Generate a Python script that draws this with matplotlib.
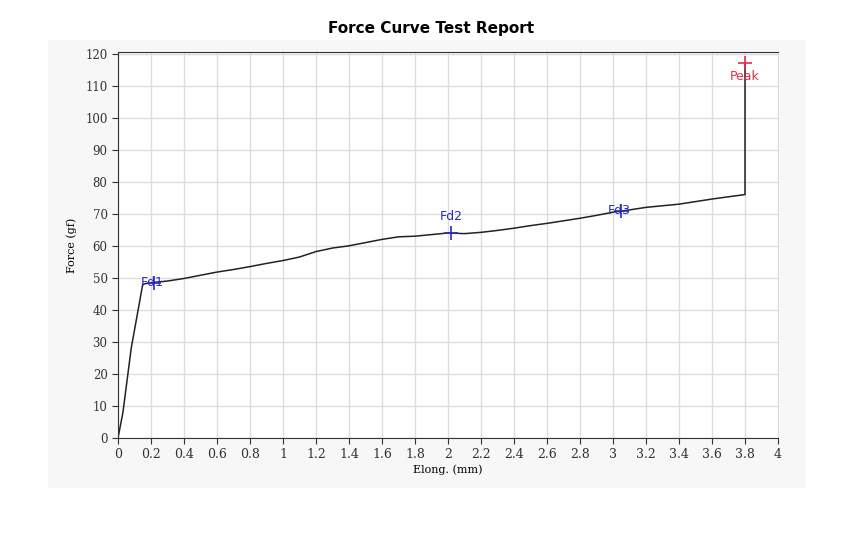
import matplotlib
matplotlib.use("Agg")
import matplotlib.pyplot as plt

elong = [0, 0.03, 0.08, 0.15, 0.2, 0.3, 0.4, 0.5, 0.6, 0.7, 0.8, 0.9, 1.0, 1.1, 1.2, 1.3, 1.4, 1.5, 1.6, 1.7, 1.8, 1.9, 2.0, 2.1, 2.2, 2.3, 2.4, 2.5, 2.6, 2.7, 2.8, 2.9, 3.0, 3.1, 3.2, 3.3, 3.4, 3.5, 3.6, 3.7, 3.8, 3.8]
force = [0, 8, 28, 48, 48.5, 49, 49.8, 50.8, 51.8, 52.6, 53.5, 54.5, 55.4, 56.5, 58.2, 59.3, 60, 61, 62, 62.8, 63, 63.5, 64, 63.8, 64.2, 64.8, 65.5, 66.3, 67, 67.8, 68.6, 69.5, 70.5, 71.2, 72, 72.5, 73, 73.8, 74.6, 75.3, 76, 117]
pt_names = ["Fd1", "Fd2", "Fd3", "Peak"]
pt_x = [0.22, 2.02, 3.05, 3.8]
pt_y = [48.5, 64, 71, 117]
pt_colors = ["#2b2bbf", "#2b2bbf", "#2b2bbf", "#e0304a"]
xticks = [0, 0.2, 0.4, 0.6, 0.8, 1, 1.2, 1.4, 1.6, 1.8, 2, 2.2, 2.4, 2.6, 2.8, 3, 3.2, 3.4, 3.6, 3.8, 4]
xtick_labels = ["0", "0.2", "0.4", "0.6", "0.8", "1", "1.2", "1.4", "1.6", "1.8", "2", "2.2", "2.4", "2.6", "2.8", "3", "3.2", "3.4", "3.6", "3.8", "4"]
yticks = list(range(0, 121, 10))

fig = plt.figure(figsize=(8.62, 5.33), dpi=100)
bg = fig.add_axes([48/862, 1-488/533, (805-48)/862, (488-40)/533])
bg.set_facecolor("#f7f7f7")
bg.set_xticks([]); bg.set_yticks([])
for s in bg.spines.values():
    s.set_visible(False)
bg.set_zorder(0)
ax = fig.add_axes([118/862, 1-438/533, 660/862, 386/533])
ax.set_zorder(1)
ax.set_facecolor("white")
ax.plot(elong, force, color="#222222", lw=1.1)
for n, x, y, c in zip(pt_names, pt_x, pt_y, pt_colors):
    ax.plot(x, y, marker="+", color=c, ms=10, mew=1.2)
    if n == "Fd2":
        ax.text(x, y + 5, n, color=c, ha="center", va="center", fontsize=9)
    elif n == "Peak":
        ax.text(x, y - 4, n, color=c, ha="center", va="center", fontsize=9)
    else:
        ax.text(x - 0.08, y, n, color=c, ha="left", va="center", fontsize=9)
ax.set_xlim(0, 4)
ax.set_ylim(0, 120.5)
ax.set_xticks(xticks)
ax.set_xticklabels(xtick_labels, family="DejaVu Serif", fontsize=9)
ax.set_yticks(yticks)
ax.set_yticklabels([str(v) for v in yticks], family="DejaVu Serif", fontsize=8.5)
ax.grid(color="#dddddd", lw=1)
for s in ax.spines.values():
    s.set_color("#dddddd")
ax.spines["left"].set_color("#333333")
ax.spines["bottom"].set_color("#333333")
ax.spines["top"].set_color("#333333")
ax.tick_params(colors="#333333", length=4)
ax.set_xlabel("Elong. (mm)", family="DejaVu Serif", fontsize=8, labelpad=2)
ax.set_ylabel("Force (gf)", family="DejaVu Serif", fontsize=8, labelpad=6)
fig.text(0.5, 1-28/533, "Force Curve Test Report", ha="center", va="center", fontsize=11, fontweight="bold")
fig.savefig("out.png", dpi=100)
